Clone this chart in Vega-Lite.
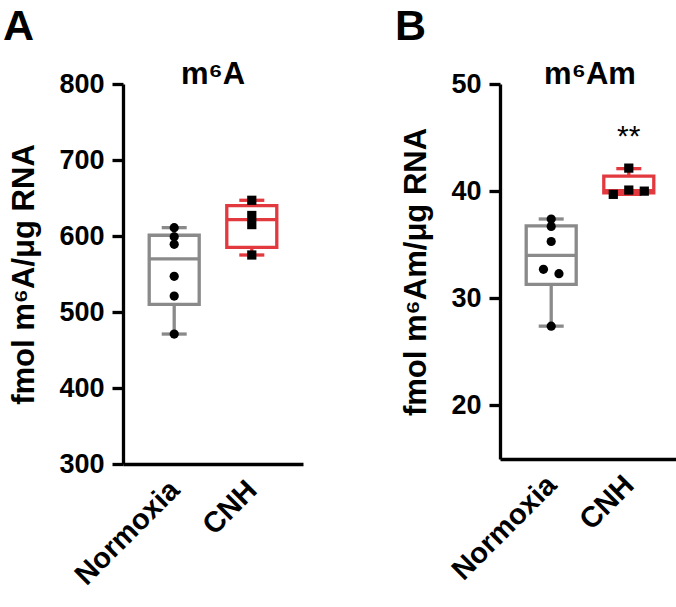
{
  "$schema": "https://vega.github.io/schema/vega-lite/v6.json",
  "background": "white",
  "padding": {"left": 2, "top": 6, "right": 0, "bottom": 0},
  "spacing": 91,
  "config": {
    "font": "Liberation Sans",
    "view": {"stroke": null},
    "tick": {"opacity": 1},
    "axis": {
      "domainColor": "black", "domainWidth": 3.3, "tickColor": "black", "tickWidth": 3.3, "tickSize": 11,
      "labelFont": "Liberation Sans", "labelFontWeight": "bold", "labelFontSize": 27, "labelColor": "black",
      "titleFont": "Liberation Sans", "titleFontWeight": "bold", "titleFontSize": 31, "titleColor": "black",
      "grid": false
    },
    "title": {"font": "Liberation Sans", "fontWeight": "bold", "fontSize": 43, "color": "black", "anchor": "start", "frame": "bounds"}
  },
  "hconcat": [
    {
      "width": 180,
      "height": 380,
      "title": {"text": "A", "offset": 10, "dx": -6},
      "layer": [
        {
          "data": {"values": [
            {"group": "Normoxia", "lo": 471, "q1": 510, "med": 570, "q3": 601, "hi": 611},
            {"group": "CNH", "lo": 575, "q1": 585, "med": 621.5, "q3": 640, "hi": 647}
          ]},
          "layer": [
            {"mark": {"type": "rule", "strokeWidth": 3.3},
             "encoding": {
               "x": {"field": "group", "type": "nominal", "sort": ["Normoxia", "CNH"], "scale": {"type": "point", "padding": 0.66},
                     "axis": {"title": null, "labelAngle": -45, "labelBaseline": "middle", "labelAlign": "right", "ticks": false, "labelPadding": 21, "labelFontSize": 29}},
               "y": {"field": "lo", "type": "quantitative", "scale": {"domain": [300, 800], "nice": false},
                     "axis": {"title": "fmol m⁶A/μg RNA", "values": [300, 400, 500, 600, 700, 800], "labelPadding": 8, "titlePadding": 18}},
               "y2": {"field": "hi"},
               "color": {"field": "group", "type": "nominal", "scale": {"domain": ["Normoxia", "CNH"], "range": ["#8a8a8a", "#e2393f"]}, "legend": null}
             }},
            {"mark": {"type": "bar", "size": 50, "fill": "white", "strokeWidth": 3.3},
             "encoding": {
               "x": {"field": "group", "type": "nominal", "sort": ["Normoxia", "CNH"]},
               "y": {"field": "q1", "type": "quantitative"},
               "y2": {"field": "q3"},
               "stroke": {"field": "group", "type": "nominal", "scale": {"domain": ["Normoxia", "CNH"], "range": ["#8a8a8a", "#e2393f"]}, "legend": null}
             }},
            {"mark": {"type": "tick", "size": 50, "thickness": 3.3, "opacity": 1},
             "encoding": {
               "x": {"field": "group", "type": "nominal", "sort": ["Normoxia", "CNH"]},
               "y": {"field": "med", "type": "quantitative"},
               "color": {"field": "group", "type": "nominal", "legend": null}
             }},
            {"mark": {"type": "tick", "size": 25, "thickness": 3.3, "opacity": 1},
             "encoding": {
               "x": {"field": "group", "type": "nominal", "sort": ["Normoxia", "CNH"]},
               "y": {"field": "lo", "type": "quantitative"},
               "color": {"field": "group", "type": "nominal", "legend": null}
             }},
            {"mark": {"type": "tick", "size": 25, "thickness": 3.3, "opacity": 1},
             "encoding": {
               "x": {"field": "group", "type": "nominal", "sort": ["Normoxia", "CNH"]},
               "y": {"field": "hi", "type": "quantitative"},
               "color": {"field": "group", "type": "nominal", "legend": null}
             }}
          ]
        },
        {
          "data": {"values": [
            {"group": "Normoxia", "value": 611, "jit": 0},
            {"group": "Normoxia", "value": 599, "jit": 0},
            {"group": "Normoxia", "value": 589, "jit": 0},
            {"group": "Normoxia", "value": 547, "jit": 0},
            {"group": "Normoxia", "value": 521, "jit": 0},
            {"group": "Normoxia", "value": 471, "jit": 0},
            {"group": "CNH", "value": 647, "jit": 0},
            {"group": "CNH", "value": 627, "jit": 0},
            {"group": "CNH", "value": 615, "jit": 0},
            {"group": "CNH", "value": 575, "jit": 0}
          ]},
          "mark": {"type": "point", "filled": true, "opacity": 1, "color": "black", "size": 85},
          "encoding": {
            "x": {"field": "group", "type": "nominal", "sort": ["Normoxia", "CNH"]},
            "xOffset": {"field": "jit", "type": "quantitative", "scale": {"domain": [-1, 1], "range": [-15.5, 15.5]}},
            "y": {"field": "value", "type": "quantitative"},
            "shape": {"field": "group", "type": "nominal", "scale": {"domain": ["Normoxia", "CNH"], "range": ["circle", "square"]}, "legend": null}
          }
        },
        {
          "data": {"values": [{"label": "m⁶A"}]},
          "mark": {"type": "text", "baseline": "alphabetic", "align": "center", "fontSize": 31, "fontWeight": "bold", "color": "black"},
          "encoding": {
            "text": {"field": "label"},
            "y": {"datum": 800, "type": "quantitative"}
          }
        }
      ]
    },
    {
      "width": 180,
      "height": 375,
      "title": {"text": "B", "offset": 10, "dx": -6},
      "layer": [
        {
          "data": {"values": [
            {"group": "Normoxia", "lo": 27.4, "q1": 31.3, "med": 34.0, "q3": 36.75, "hi": 37.4},
            {"group": "CNH", "lo": 39.7, "q1": 39.85, "med": 40.05, "q3": 41.4, "hi": 42.1}
          ]},
          "layer": [
            {"mark": {"type": "rule", "strokeWidth": 3.3},
             "encoding": {
               "x": {"field": "group", "type": "nominal", "sort": ["Normoxia", "CNH"], "scale": {"type": "point", "padding": 0.66},
                     "axis": {"title": null, "labelAngle": -45, "labelBaseline": "middle", "labelAlign": "right", "ticks": false, "labelPadding": 21, "labelFontSize": 29}},
               "y": {"field": "lo", "type": "quantitative", "scale": {"domain": [15, 50], "nice": false},
                     "axis": {"title": "fmol m⁶Am/μg RNA", "values": [20, 30, 40, 50], "labelPadding": 8, "titlePadding": 18}},
               "y2": {"field": "hi"},
               "color": {"field": "group", "type": "nominal", "scale": {"domain": ["Normoxia", "CNH"], "range": ["#8a8a8a", "#e2393f"]}, "legend": null}
             }},
            {"mark": {"type": "bar", "size": 50, "fill": "white", "strokeWidth": 3.3},
             "encoding": {
               "x": {"field": "group", "type": "nominal", "sort": ["Normoxia", "CNH"]},
               "y": {"field": "q1", "type": "quantitative"},
               "y2": {"field": "q3"},
               "stroke": {"field": "group", "type": "nominal", "scale": {"domain": ["Normoxia", "CNH"], "range": ["#8a8a8a", "#e2393f"]}, "legend": null}
             }},
            {"mark": {"type": "tick", "size": 50, "thickness": 3.3, "opacity": 1},
             "encoding": {
               "x": {"field": "group", "type": "nominal", "sort": ["Normoxia", "CNH"]},
               "y": {"field": "med", "type": "quantitative"},
               "color": {"field": "group", "type": "nominal", "legend": null}
             }},
            {"mark": {"type": "tick", "size": 25, "thickness": 3.3, "opacity": 1},
             "encoding": {
               "x": {"field": "group", "type": "nominal", "sort": ["Normoxia", "CNH"]},
               "y": {"field": "lo", "type": "quantitative"},
               "color": {"field": "group", "type": "nominal", "legend": null}
             }},
            {"mark": {"type": "tick", "size": 25, "thickness": 3.3, "opacity": 1},
             "encoding": {
               "x": {"field": "group", "type": "nominal", "sort": ["Normoxia", "CNH"]},
               "y": {"field": "hi", "type": "quantitative"},
               "color": {"field": "group", "type": "nominal", "legend": null}
             }}
          ]
        },
        {
          "data": {"values": [
            {"group": "Normoxia", "value": 37.4, "jit": 0},
            {"group": "Normoxia", "value": 36.7, "jit": 0},
            {"group": "Normoxia", "value": 35.3, "jit": 0},
            {"group": "Normoxia", "value": 32.7, "jit": -0.5},
            {"group": "Normoxia", "value": 32.3, "jit": 0.5},
            {"group": "Normoxia", "value": 27.4, "jit": 0},
            {"group": "CNH", "value": 42.15, "jit": 0},
            {"group": "CNH", "value": 40.1, "jit": 0},
            {"group": "CNH", "value": 40.0, "jit": 1},
            {"group": "CNH", "value": 39.7, "jit": -1}
          ]},
          "mark": {"type": "point", "filled": true, "opacity": 1, "color": "black", "size": 85},
          "encoding": {
            "x": {"field": "group", "type": "nominal", "sort": ["Normoxia", "CNH"]},
            "xOffset": {"field": "jit", "type": "quantitative", "scale": {"domain": [-1, 1], "range": [-15.5, 15.5]}},
            "y": {"field": "value", "type": "quantitative"},
            "shape": {"field": "group", "type": "nominal", "scale": {"domain": ["Normoxia", "CNH"], "range": ["circle", "square"]}, "legend": null}
          }
        },
        {
          "data": {"values": [{"group": "CNH", "value": 44.2, "label": "**"}]},
          "mark": {"type": "text", "baseline": "alphabetic", "align": "center", "fontSize": 30, "fontWeight": "normal", "color": "black"},
          "encoding": {
            "x": {"field": "group", "type": "nominal", "sort": ["Normoxia", "CNH"]},
            "y": {"field": "value", "type": "quantitative"},
            "text": {"field": "label"}
          }
        },
        {
          "data": {"values": [{"label": "m⁶Am"}]},
          "mark": {"type": "text", "baseline": "alphabetic", "align": "center", "fontSize": 31, "fontWeight": "bold", "color": "black"},
          "encoding": {
            "text": {"field": "label"},
            "y": {"datum": 50, "type": "quantitative"}
          }
        }
      ]
    }
  ]
}
